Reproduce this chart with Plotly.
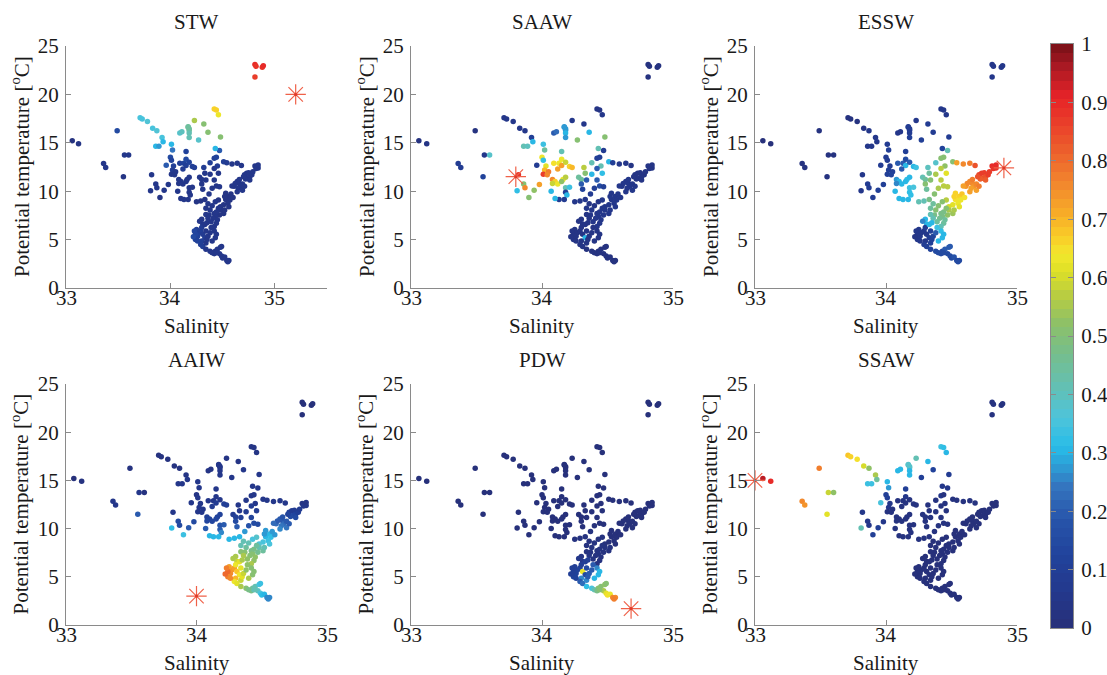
import plotly.graph_objects as go

# ---------------------------------------------------------------------------
# Station data: salinity / potential temperature and the fraction of each
# water mass at every sample (same samples shown in all six panels).
# ---------------------------------------------------------------------------
salinity = [
    34.81, 34.82, 34.81, 34.88, 34.89,
    33.06, 33.12,
    33.36, 33.38, 33.49, 33.56, 33.60, 33.55,
    33.71, 33.73, 33.78, 33.83, 33.87, 33.92, 33.93, 33.86, 33.89, 34.01, 34.02,
    34.17, 34.18, 34.18, 34.17, 34.18, 34.18, 34.09, 34.11, 34.23, 34.32,
    34.36, 34.27, 34.42, 34.44, 34.46, 34.48, 34.47, 34.43, 34.42, 34.15,
    33.96, 34.00, 34.01, 34.03, 34.02, 34.05, 34.01, 34.04, 34.09, 34.13,
    34.15, 34.12, 34.15, 34.18, 34.21, 34.23, 34.08, 34.10, 34.08, 34.12,
    34.16, 34.15, 34.18, 34.18, 34.21, 34.18, 34.19, 34.17, 34.13, 34.10,
    34.07, 33.98, 33.94, 33.90, 33.86, 33.87, 33.81, 33.82,
    34.28, 34.32, 34.33, 34.30, 34.30, 34.38, 34.38, 34.46, 34.45, 34.51,
    34.31, 34.34, 34.42, 34.44, 34.40, 34.37, 34.25, 34.29, 34.33, 34.47,
    34.42, 34.54, 34.59, 34.64, 34.68, 34.44,
    34.81, 34.83, 34.84, 34.82, 34.84,
    34.71, 34.73, 34.75, 34.76, 34.78, 34.74, 34.72, 34.76, 34.70, 34.79,
    34.64, 34.66, 34.67, 34.61, 34.62, 34.65, 34.69, 34.59, 34.69, 34.71, 34.64, 34.66,
    34.56, 34.57, 34.53, 34.52, 34.58, 34.55, 34.51, 34.56, 34.48, 34.60, 34.53,
    34.46, 34.48, 34.51, 34.52, 34.47,
    34.42, 34.43, 34.45, 34.41, 34.38, 34.39, 34.44, 34.42, 34.44, 34.37, 34.46, 34.34,
    34.30, 34.34, 34.31, 34.36, 34.28, 34.40, 34.36, 34.43,
    34.25, 34.24, 34.26, 34.27, 34.29, 34.25, 34.30, 34.31, 34.33, 34.30,
    34.29, 34.31, 34.34, 34.35, 34.36, 34.38, 34.34, 34.33, 34.35, 34.39,
    34.42, 34.44, 34.43, 34.40, 34.26, 34.24, 34.22, 34.23,
    34.38, 34.40, 34.43, 34.45, 34.48, 34.49, 34.34, 34.42, 34.47, 34.49,
    34.50, 34.52, 34.54, 34.56, 34.55, 34.44,
]

temperature = [
    23.1, 22.9, 21.8, 22.8, 22.95,
    15.2, 14.9,
    12.85, 12.45, 16.25, 13.75, 13.75, 11.5,
    17.6, 17.45, 17.2, 16.5, 16.25, 15.55, 15.1, 14.65, 14.65, 14.85, 14.25,
    16.6, 16.45, 16.3, 16.65, 16.0, 15.55, 16.0, 16.15, 17.3, 16.95,
    16.1, 15.3, 18.5, 18.4, 17.9, 15.6, 14.2, 14.4, 13.4, 14.1,
    12.67, 13.5, 13.2, 12.6, 12.2, 12.0, 11.75, 11.7, 12.9, 12.9,
    12.65, 12.3, 13.3, 13.0, 12.55, 12.45, 11.2, 11.0, 10.8, 10.75,
    11.2, 11.0, 11.45, 10.35, 10.4, 9.9, 9.6, 9.15, 9.15, 9.25,
    10.0, 10.7, 10.1, 9.35, 10.75, 10.35, 10.05, 11.7,
    11.45, 12.45, 11.85, 11.2, 10.75, 12.95, 11.75, 11.85, 12.6, 13.05,
    10.2, 11.15, 11.15, 10.55, 10.3, 9.7, 8.9, 9.0, 9.15, 10.45,
    12.35, 12.95, 12.8, 12.9, 12.65, 13.5,
    12.6, 12.5, 12.4, 12.35, 12.7,
    11.7, 11.85, 11.9, 11.5, 11.7, 11.35, 11.25, 11.15, 11.5, 12.0,
    11.0, 10.8, 10.5, 10.5, 10.8, 10.3, 10.1, 10.55, 10.75, 10.5, 9.95, 11.2,
    9.45, 9.1, 9.15, 9.45, 9.7, 8.75, 8.6, 8.4, 8.4, 9.35, 9.8,
    9.1, 8.05, 7.7, 8.05, 7.55,
    7.7, 7.4, 7.05, 7.2, 8.05, 6.85, 6.7, 6.35, 7.85, 7.55, 8.25, 8.25,
    7.1, 7.6, 6.6, 7.2, 6.9, 8.5, 8.7, 8.9,
    5.2, 5.0, 5.35, 5.7, 5.9, 6.05, 6.25, 5.55, 5.2, 4.85,
    4.5, 4.3, 4.65, 5.0, 5.35, 5.7, 5.9, 6.55, 6.75, 6.25,
    5.9, 5.55, 5.2, 4.85, 4.85, 5.55, 5.3, 5.9,
    3.8, 3.65, 3.8, 4.0, 4.2, 4.3, 4.0, 3.55, 3.55, 3.3,
    3.1, 3.2, 2.85, 2.85, 2.7, 3.65,
]

frac_stw = [
    0.90, 0.89, 0.87, 0.88, 0.90,
    0.03, 0.04,
    0.05, 0.05, 0.15, 0.06, 0.05, 0.04,
    0.35, 0.35, 0.36, 0.35, 0.36, 0.35, 0.30, 0.30, 0.28, 0.30, 0.24,
    0.45, 0.45, 0.44, 0.45, 0.42, 0.42, 0.38, 0.40, 0.55, 0.50,
    0.50, 0.38, 0.66, 0.66, 0.64, 0.50, 0.20, 0.30, 0.10, 0.12,
    0.20, 0.15, 0.12, 0.10, 0.08, 0.06, 0.05, 0.06, 0.10, 0.12,
    0.10, 0.08, 0.15, 0.12, 0.10, 0.10, 0.05, 0.05, 0.05, 0.05,
    0.06, 0.06, 0.06, 0.05, 0.05, 0.05, 0.05, 0.05, 0.05, 0.05,
    0.05, 0.05, 0.05, 0.04, 0.05, 0.05, 0.06, 0.06,
    0.06, 0.08, 0.06, 0.05, 0.05, 0.10, 0.06, 0.06, 0.08, 0.10,
    0.05, 0.05, 0.05, 0.05, 0.05, 0.05, 0.04, 0.04, 0.04, 0.05,
    0.06, 0.08, 0.06, 0.06, 0.06, 0.12,
    0.06, 0.06, 0.06, 0.06, 0.06,
    0.05, 0.05, 0.05, 0.05, 0.05, 0.05, 0.05, 0.05, 0.05, 0.05,
    0.05, 0.05, 0.05, 0.05, 0.05, 0.05, 0.05, 0.05, 0.05, 0.05, 0.05, 0.05,
    0.04, 0.04, 0.04, 0.04, 0.04, 0.04, 0.04, 0.04, 0.04, 0.04, 0.04,
    0.04, 0.04, 0.04, 0.04, 0.04,
    0.05, 0.05, 0.05, 0.05, 0.05, 0.05, 0.05, 0.05, 0.05, 0.05, 0.05, 0.05,
    0.05, 0.05, 0.05, 0.05, 0.05, 0.05, 0.05, 0.05,
    0.12, 0.12, 0.12, 0.12, 0.10, 0.10, 0.08, 0.08, 0.08, 0.10,
    0.10, 0.10, 0.06, 0.06, 0.06, 0.05, 0.06, 0.06, 0.06, 0.05,
    0.05, 0.05, 0.05, 0.05, 0.12, 0.14, 0.15, 0.14,
    0.05, 0.05, 0.05, 0.05, 0.05, 0.05, 0.05, 0.05, 0.05, 0.05,
    0.05, 0.05, 0.05, 0.05, 0.05, 0.05,
]

frac_saaw = [
    0.02, 0.02, 0.03, 0.02, 0.02,
    0.02, 0.04,
    0.08, 0.08, 0.03, 0.06, 0.38, 0.12,
    0.05, 0.05, 0.05, 0.05, 0.06, 0.10, 0.30, 0.42, 0.40, 0.33, 0.45,
    0.28, 0.28, 0.28, 0.28, 0.30, 0.28, 0.20, 0.22, 0.05, 0.05,
    0.30, 0.50, 0.04, 0.04, 0.05, 0.50, 0.08, 0.42, 0.10, 0.42,
    0.08, 0.63, 0.32, 0.62, 0.70, 0.78, 0.86, 0.75, 0.65, 0.64,
    0.72, 0.72, 0.63, 0.58, 0.66, 0.70, 0.75, 0.66, 0.58, 0.63,
    0.63, 0.52, 0.57, 0.42, 0.33, 0.10, 0.30, 0.08, 0.08, 0.30,
    0.30, 0.72, 0.52, 0.50, 0.50, 0.75, 0.32, 0.88,
    0.45, 0.57, 0.50, 0.45, 0.20, 0.42, 0.30, 0.32, 0.42, 0.30,
    0.12, 0.20, 0.20, 0.15, 0.10, 0.08, 0.06, 0.06, 0.06, 0.10,
    0.20, 0.10, 0.06, 0.05, 0.04, 0.10,
    0.04, 0.04, 0.04, 0.04, 0.04,
    0.04, 0.04, 0.04, 0.04, 0.04, 0.04, 0.04, 0.04, 0.04, 0.04,
    0.05, 0.05, 0.05, 0.05, 0.05, 0.05, 0.05, 0.05, 0.05, 0.05, 0.05, 0.05,
    0.05, 0.05, 0.05, 0.05, 0.05, 0.05, 0.05, 0.05, 0.05, 0.05, 0.05,
    0.05, 0.05, 0.05, 0.05, 0.05,
    0.05, 0.05, 0.05, 0.05, 0.05, 0.05, 0.05, 0.05, 0.05, 0.05, 0.05, 0.05,
    0.04, 0.04, 0.04, 0.04, 0.04, 0.04, 0.04, 0.04,
    0.04, 0.04, 0.04, 0.04, 0.04, 0.04, 0.04, 0.04, 0.30, 0.04,
    0.04, 0.04, 0.04, 0.04, 0.04, 0.04, 0.04, 0.04, 0.04, 0.04,
    0.04, 0.04, 0.04, 0.04, 0.04, 0.04, 0.04, 0.04,
    0.02, 0.02, 0.02, 0.02, 0.02, 0.02, 0.02, 0.02, 0.02, 0.02,
    0.02, 0.02, 0.02, 0.02, 0.02, 0.02,
]

frac_essw = [
    0.05, 0.05, 0.06, 0.05, 0.05,
    0.00, 0.00,
    0.02, 0.02, 0.02, 0.02, 0.02, 0.02,
    0.02, 0.02, 0.03, 0.04, 0.05, 0.05, 0.06, 0.05, 0.06, 0.08, 0.10,
    0.08, 0.08, 0.08, 0.08, 0.08, 0.10, 0.06, 0.06, 0.05, 0.08,
    0.08, 0.10, 0.05, 0.05, 0.05, 0.08, 0.42, 0.12, 0.50, 0.10,
    0.08, 0.08, 0.08, 0.08, 0.10, 0.10, 0.10, 0.12, 0.20, 0.20,
    0.30, 0.20, 0.15, 0.20, 0.30, 0.33, 0.28, 0.30, 0.25, 0.30,
    0.32, 0.30, 0.30, 0.33, 0.35, 0.32, 0.32, 0.30, 0.30, 0.30,
    0.30, 0.10, 0.10, 0.08, 0.08, 0.08, 0.06, 0.05,
    0.42, 0.40, 0.45, 0.45, 0.50, 0.38, 0.56, 0.62, 0.52, 0.50,
    0.45, 0.50, 0.57, 0.57, 0.55, 0.50, 0.42, 0.42, 0.47, 0.57,
    0.57, 0.72, 0.75, 0.77, 0.83, 0.50,
    0.90, 0.90, 0.88, 0.88, 0.90,
    0.85, 0.86, 0.87, 0.84, 0.86, 0.83, 0.82, 0.82, 0.83, 0.87,
    0.76, 0.75, 0.74, 0.74, 0.75, 0.73, 0.72, 0.73, 0.76, 0.77, 0.72, 0.78,
    0.66, 0.64, 0.65, 0.66, 0.68, 0.63, 0.62, 0.62, 0.60, 0.65, 0.67,
    0.57, 0.55, 0.54, 0.56, 0.52,
    0.48, 0.47, 0.45, 0.46, 0.50, 0.44, 0.44, 0.42, 0.48, 0.47, 0.50, 0.45,
    0.30, 0.42, 0.30, 0.42, 0.25, 0.50, 0.45, 0.50,
    0.05, 0.05, 0.05, 0.06, 0.06, 0.06, 0.08, 0.06, 0.08, 0.06,
    0.08, 0.10, 0.10, 0.10, 0.12, 0.20, 0.10, 0.30, 0.30, 0.33,
    0.32, 0.30, 0.30, 0.30, 0.05, 0.05, 0.04, 0.05,
    0.15, 0.15, 0.15, 0.20, 0.20, 0.20, 0.12, 0.15, 0.15, 0.15,
    0.15, 0.18, 0.15, 0.15, 0.15, 0.15,
]

frac_aaiw = [
    0.01, 0.01, 0.01, 0.01, 0.01,
    0.00, 0.02,
    0.05, 0.06, 0.02, 0.05, 0.03, 0.20,
    0.02, 0.02, 0.02, 0.03, 0.03, 0.04, 0.05, 0.05, 0.05, 0.05, 0.06,
    0.05, 0.05, 0.05, 0.05, 0.05, 0.06, 0.04, 0.04, 0.04, 0.04,
    0.05, 0.06, 0.04, 0.04, 0.04, 0.05, 0.06, 0.06, 0.06, 0.05,
    0.05, 0.04, 0.05, 0.05, 0.05, 0.05, 0.06, 0.06, 0.06, 0.06,
    0.08, 0.08, 0.05, 0.06, 0.10, 0.10, 0.10, 0.12, 0.14, 0.14,
    0.12, 0.14, 0.12, 0.18, 0.20, 0.20, 0.26, 0.30, 0.30, 0.30,
    0.20, 0.15, 0.20, 0.33, 0.15, 0.15, 0.32, 0.05,
    0.08, 0.05, 0.06, 0.10, 0.15, 0.05, 0.08, 0.08, 0.06, 0.05,
    0.20, 0.10, 0.12, 0.15, 0.18, 0.28, 0.30, 0.30, 0.30, 0.15,
    0.08, 0.06, 0.05, 0.05, 0.05, 0.05,
    0.04, 0.04, 0.05, 0.05, 0.04,
    0.10, 0.08, 0.08, 0.12, 0.10, 0.14, 0.15, 0.15, 0.12, 0.08,
    0.20, 0.20, 0.22, 0.22, 0.20, 0.24, 0.24, 0.22, 0.20, 0.20, 0.25, 0.18,
    0.30, 0.32, 0.30, 0.28, 0.28, 0.33, 0.35, 0.35, 0.36, 0.28, 0.27,
    0.38, 0.42, 0.45, 0.42, 0.46,
    0.48, 0.50, 0.52, 0.50, 0.45, 0.53, 0.52, 0.55, 0.47, 0.50, 0.45, 0.42,
    0.55, 0.50, 0.58, 0.55, 0.55, 0.42, 0.42, 0.35,
    0.77, 0.78, 0.76, 0.74, 0.72, 0.73, 0.64, 0.68, 0.63, 0.70,
    0.64, 0.62, 0.58, 0.62, 0.58, 0.52, 0.62, 0.62, 0.56, 0.52,
    0.50, 0.50, 0.50, 0.55, 0.75, 0.80, 0.80, 0.78,
    0.50, 0.48, 0.45, 0.42, 0.35, 0.33, 0.55, 0.47, 0.40, 0.35,
    0.32, 0.30, 0.25, 0.25, 0.25, 0.42,
]

frac_pdw = [
    0.00, 0.00, 0.00, 0.00, 0.00,
    0.00, 0.00,
    0.00, 0.00, 0.00, 0.00, 0.00, 0.00,
    0.00, 0.00, 0.00, 0.00, 0.00, 0.00, 0.00, 0.00, 0.00, 0.00, 0.00,
    0.00, 0.00, 0.00, 0.00, 0.00, 0.00, 0.00, 0.00, 0.00, 0.00,
    0.00, 0.00, 0.00, 0.00, 0.00, 0.00, 0.00, 0.00, 0.00, 0.00,
    0.00, 0.00, 0.00, 0.00, 0.00, 0.00, 0.00, 0.00, 0.00, 0.00,
    0.00, 0.00, 0.00, 0.00, 0.00, 0.00, 0.00, 0.00, 0.00, 0.00,
    0.00, 0.00, 0.00, 0.00, 0.00, 0.00, 0.00, 0.00, 0.00, 0.00,
    0.00, 0.00, 0.00, 0.00, 0.00, 0.00, 0.00, 0.00,
    0.00, 0.00, 0.00, 0.00, 0.00, 0.00, 0.00, 0.00, 0.00, 0.00,
    0.00, 0.00, 0.00, 0.00, 0.00, 0.02, 0.02, 0.02, 0.02, 0.00,
    0.00, 0.00, 0.00, 0.00, 0.00, 0.00,
    0.00, 0.00, 0.00, 0.00, 0.00,
    0.00, 0.00, 0.00, 0.00, 0.00, 0.00, 0.00, 0.00, 0.00, 0.00,
    0.00, 0.00, 0.00, 0.00, 0.00, 0.00, 0.00, 0.00, 0.00, 0.00, 0.00, 0.00,
    0.01, 0.01, 0.01, 0.01, 0.01, 0.01, 0.01, 0.01, 0.01, 0.01, 0.01,
    0.02, 0.02, 0.02, 0.02, 0.02,
    0.03, 0.03, 0.03, 0.03, 0.03, 0.03, 0.03, 0.03, 0.03, 0.03, 0.03, 0.03,
    0.04, 0.03, 0.06, 0.04, 0.05, 0.02, 0.02, 0.02,
    0.12, 0.12, 0.12, 0.12, 0.12, 0.10, 0.10, 0.64, 0.15, 0.25,
    0.20, 0.22, 0.25, 0.20, 0.20, 0.20, 0.15, 0.10, 0.10, 0.20,
    0.25, 0.30, 0.30, 0.30, 0.12, 0.10, 0.10, 0.10,
    0.35, 0.42, 0.50, 0.50, 0.52, 0.50, 0.32, 0.47, 0.56, 0.62,
    0.65, 0.63, 0.75, 0.76, 0.77, 0.50,
]

frac_ssaw = [
    0.02, 0.02, 0.02, 0.02, 0.02,
    0.95, 0.90,
    0.75, 0.74, 0.78, 0.58, 0.52, 0.62,
    0.68, 0.66, 0.65, 0.60, 0.52, 0.56, 0.45, 0.33, 0.33, 0.30, 0.28,
    0.38, 0.38, 0.38, 0.38, 0.30, 0.30, 0.30, 0.30, 0.42, 0.30,
    0.12, 0.10, 0.33, 0.32, 0.30, 0.08, 0.05, 0.05, 0.05, 0.10,
    0.35, 0.10, 0.10, 0.05, 0.05, 0.03, 0.03, 0.03, 0.03, 0.03,
    0.03, 0.03, 0.05, 0.03, 0.02, 0.02, 0.03, 0.03, 0.03, 0.02,
    0.02, 0.02, 0.02, 0.02, 0.02, 0.02, 0.02, 0.02, 0.03, 0.03,
    0.03, 0.05, 0.10, 0.10, 0.05, 0.06, 0.42, 0.05,
    0.02, 0.02, 0.02, 0.02, 0.02, 0.02, 0.02, 0.02, 0.02, 0.02,
    0.02, 0.02, 0.02, 0.02, 0.02, 0.02, 0.02, 0.02, 0.02, 0.02,
    0.02, 0.02, 0.02, 0.02, 0.02, 0.02,
    0.00, 0.00, 0.00, 0.00, 0.00,
    0.00, 0.00, 0.00, 0.00, 0.00, 0.00, 0.00, 0.00, 0.00, 0.00,
    0.00, 0.00, 0.00, 0.00, 0.00, 0.00, 0.00, 0.00, 0.00, 0.00, 0.00, 0.00,
    0.00, 0.00, 0.00, 0.00, 0.00, 0.00, 0.00, 0.00, 0.00, 0.00, 0.00,
    0.00, 0.00, 0.00, 0.00, 0.00,
    0.00, 0.00, 0.00, 0.00, 0.00, 0.00, 0.00, 0.00, 0.00, 0.00, 0.00, 0.00,
    0.00, 0.00, 0.00, 0.00, 0.00, 0.00, 0.00, 0.00,
    0.00, 0.00, 0.00, 0.00, 0.00, 0.00, 0.00, 0.00, 0.00, 0.00,
    0.00, 0.00, 0.00, 0.00, 0.00, 0.00, 0.00, 0.00, 0.00, 0.00,
    0.00, 0.00, 0.00, 0.00, 0.00, 0.00, 0.00, 0.00,
    0.00, 0.00, 0.00, 0.00, 0.00, 0.00, 0.00, 0.00, 0.00, 0.00,
    0.00, 0.00, 0.00, 0.00, 0.00, 0.00,
]

# Water-mass names, end-member (salinity, temperature) and salinity limits
mass_names = ["STW", "SAAW", "ESSW", "AAIW", "PDW", "SSAW"]
end_salinity = [35.2, 33.8, 34.9, 34.0, 34.68, 33.0]
end_temperature = [20.0, 11.5, 12.4, 3.0, 1.7, 15.0]
salinity_max = [35.5, 35.0, 35.0, 35.0, 35.0, 35.0]
fractions = [frac_stw, frac_saaw, frac_essw, frac_aaiw, frac_pdw, frac_ssaw]

salinity_ticks = [33, 34, 35]
temperature_ticks = [0, 5, 10, 15, 20, 25]
bar_ticks = [0, 0.1, 0.2, 0.3, 0.4, 0.5, 0.6, 0.7, 0.8, 0.9, 1]
bar_ticktext = ["0", "0.1", "0.2", "0.3", "0.4", "0.5", "0.6", "0.7", "0.8", "0.9", "1"]

n = len(salinity)
for arr in [temperature] + fractions:
    if len(arr) != n:
        raise ValueError("column length mismatch")

# ---------------------------------------------------------------------------
# Jet-like colour map, quantised to 64 levels
# ---------------------------------------------------------------------------
jet_anchors = [
    (0.00, (40, 48, 120)), (0.06, (36, 56, 140)), (0.12, (33, 66, 155)),
    (0.18, (38, 82, 168)), (0.24, (52, 115, 190)), (0.28, (45, 160, 215)),
    (0.31, (40, 188, 232)), (0.36, (78, 196, 218)), (0.41, (98, 192, 182)),
    (0.47, (118, 190, 140)), (0.52, (140, 192, 105)), (0.57, (185, 205, 65)),
    (0.61, (222, 224, 38)), (0.64, (242, 232, 45)), (0.67, (250, 205, 40)),
    (0.71, (247, 172, 40)), (0.76, (242, 135, 45)), (0.81, (237, 100, 45)),
    (0.86, (234, 65, 42)), (0.91, (230, 35, 40)), (0.96, (170, 25, 35)),
    (1.00, (118, 16, 22)),
]


def jet_colour(v):
    for (p0, c0), (p1, c1) in zip(jet_anchors[:-1], jet_anchors[1:]):
        if p0 <= v <= p1:
            t = (v - p0) / (p1 - p0)
            rgb = [round(a + (b - a) * t) for a, b in zip(c0, c1)]
            return "rgb({},{},{})".format(*rgb)
    return "rgb({},{},{})".format(*jet_anchors[-1][1])


levels = 64
colorscale = []
for k in range(levels):
    c = jet_colour((k + 0.5) / levels)
    colorscale.append([k / levels, c])
    colorscale.append([(k + 1) / levels, c])

# ---------------------------------------------------------------------------
# Figure layout: 2 x 3 panels, positioned in paper coordinates
# ---------------------------------------------------------------------------
W, H = 1107, 675
col_px = [(66, 327), (411, 673), (755, 1017)]
row_px = [(46, 288), (384, 625)]
bar_px = (1051, 1073, 44, 628)          # left, right, top, bottom
FONT = "Liberation Serif"
TEXT = "#1a1a1a"
AXIS_GREY = "#8a8a8a"
STAR = "#ef6149"

fig = go.Figure()
layout_axes = {}
annotations = []

common = dict(
    showline=True, linecolor=AXIS_GREY, linewidth=1,
    ticks="inside", ticklen=5, tickcolor=AXIS_GREY, tickwidth=1,
    showgrid=False, zeroline=False, mirror=False, automargin=False,
)

for i, name in enumerate(mass_names):
    r, c = divmod(i, 3)
    k = i + 1
    xs = "" if k == 1 else str(k)
    xdom = [col_px[c][0] / W, col_px[c][1] / W]
    ydom = [1 - row_px[r][1] / H, 1 - row_px[r][0] / H]

    fig.add_trace(go.Scatter(
        x=salinity, y=temperature, mode="markers",
        xaxis="x" + xs, yaxis="y" + xs,
        marker=dict(size=5.5, color=fractions[i], colorscale=colorscale,
                    cmin=0, cmax=1, showscale=False, line=dict(width=0)),
        showlegend=False, hoverinfo="skip",
    ))
    # end-member marker
    fig.add_trace(go.Scatter(
        x=[end_salinity[i]], y=[end_temperature[i]], mode="markers",
        xaxis="x" + xs, yaxis="y" + xs, cliponaxis=False,
        marker=dict(symbol="asterisk-open", size=17, color=STAR,
                    line=dict(color=STAR, width=1.2)),
        showlegend=False, hoverinfo="skip",
    ))
    fig.add_trace(go.Scatter(
        x=[end_salinity[i]], y=[end_temperature[i]], mode="markers",
        xaxis="x" + xs, yaxis="y" + xs, cliponaxis=False,
        marker=dict(symbol="circle", size=3, color="#e03a2a"),
        showlegend=False, hoverinfo="skip",
    ))

    layout_axes["xaxis" + xs] = dict(
        domain=xdom, anchor="y" + xs, range=[33, salinity_max[i]],
        tickvals=salinity_ticks, showticklabels=False, **common)
    layout_axes["yaxis" + xs] = dict(
        domain=ydom, anchor="x" + xs, range=[0, 25],
        tickvals=temperature_ticks, ticklabelstandoff=2,
        tickfont=dict(family=FONT, size=21, color=TEXT), **common)

    # salinity tick labels sit just under the axis line
    for v in salinity_ticks:
        annotations.append(dict(
            text=str(v), x=v, y=1 - (row_px[r][1] + 10) / H,
            xref="x" + xs, yref="paper", xanchor="center", yanchor="middle",
            showarrow=False, font=dict(family=FONT, size=21, color=TEXT)))

    cx = (col_px[c][0] + col_px[c][1]) / 2 / W
    title_y = [22, 360][r]
    xlabel_y = [326, 663][r]
    annotations.append(dict(
        text=name, x=cx, y=1 - title_y / H, xref="paper", yref="paper",
        xanchor="center", yanchor="middle", showarrow=False,
        font=dict(family=FONT, size=21, color=TEXT)))
    annotations.append(dict(
        text="Salinity", x=cx, y=1 - xlabel_y / H, xref="paper", yref="paper",
        xanchor="center", yanchor="middle", showarrow=False,
        font=dict(family=FONT, size=21, color=TEXT)))
    annotations.append(dict(
        text="Potential temperature [<sup>o</sup>C]",
        x=(col_px[c][0] - 46) / W,
        y=1 - (row_px[r][0] + row_px[r][1]) / 2 / H,
        xref="paper", yref="paper", textangle=-90,
        xanchor="center", yanchor="middle", showarrow=False,
        font=dict(family=FONT, size=21, color=TEXT)))

# ---------------------------------------------------------------------------
# Colour bar: a one-column heatmap of the 64 colour levels on its own axes
# ---------------------------------------------------------------------------
level_centres = [(k + 0.5) / levels for k in range(levels)]
fig.add_trace(go.Heatmap(
    x=[0.5], y=level_centres, z=[[v] for v in level_centres],
    colorscale=colorscale, zmin=0, zmax=1, showscale=False,
    xaxis="x7", yaxis="y7", hoverinfo="skip",
))
layout_axes["xaxis7"] = dict(
    domain=[bar_px[0] / W, bar_px[1] / W], anchor="y7", range=[0, 1],
    showticklabels=False, ticks="", showline=True, mirror=True,
    linecolor=AXIS_GREY, linewidth=1, showgrid=False, zeroline=False,
    automargin=False, fixedrange=True)
layout_axes["yaxis7"] = dict(
    domain=[1 - bar_px[3] / H, 1 - bar_px[2] / H], anchor="x7",
    range=[0, 1], side="right", tickvals=bar_ticks, ticktext=bar_ticktext,
    ticks="inside", ticklen=5, tickcolor=AXIS_GREY, showline=True,
    mirror="ticks", linecolor=AXIS_GREY, linewidth=1, showgrid=False,
    zeroline=False, automargin=False, fixedrange=True, ticklabelstandoff=3,
    tickfont=dict(family=FONT, size=21, color=TEXT))

fig.update_layout(
    width=W, height=H,
    margin=dict(l=0, r=0, t=0, b=0, autoexpand=False),
    paper_bgcolor="white", plot_bgcolor="white",
    annotations=annotations,
    **layout_axes,
)

fig.write_html("out.html")
